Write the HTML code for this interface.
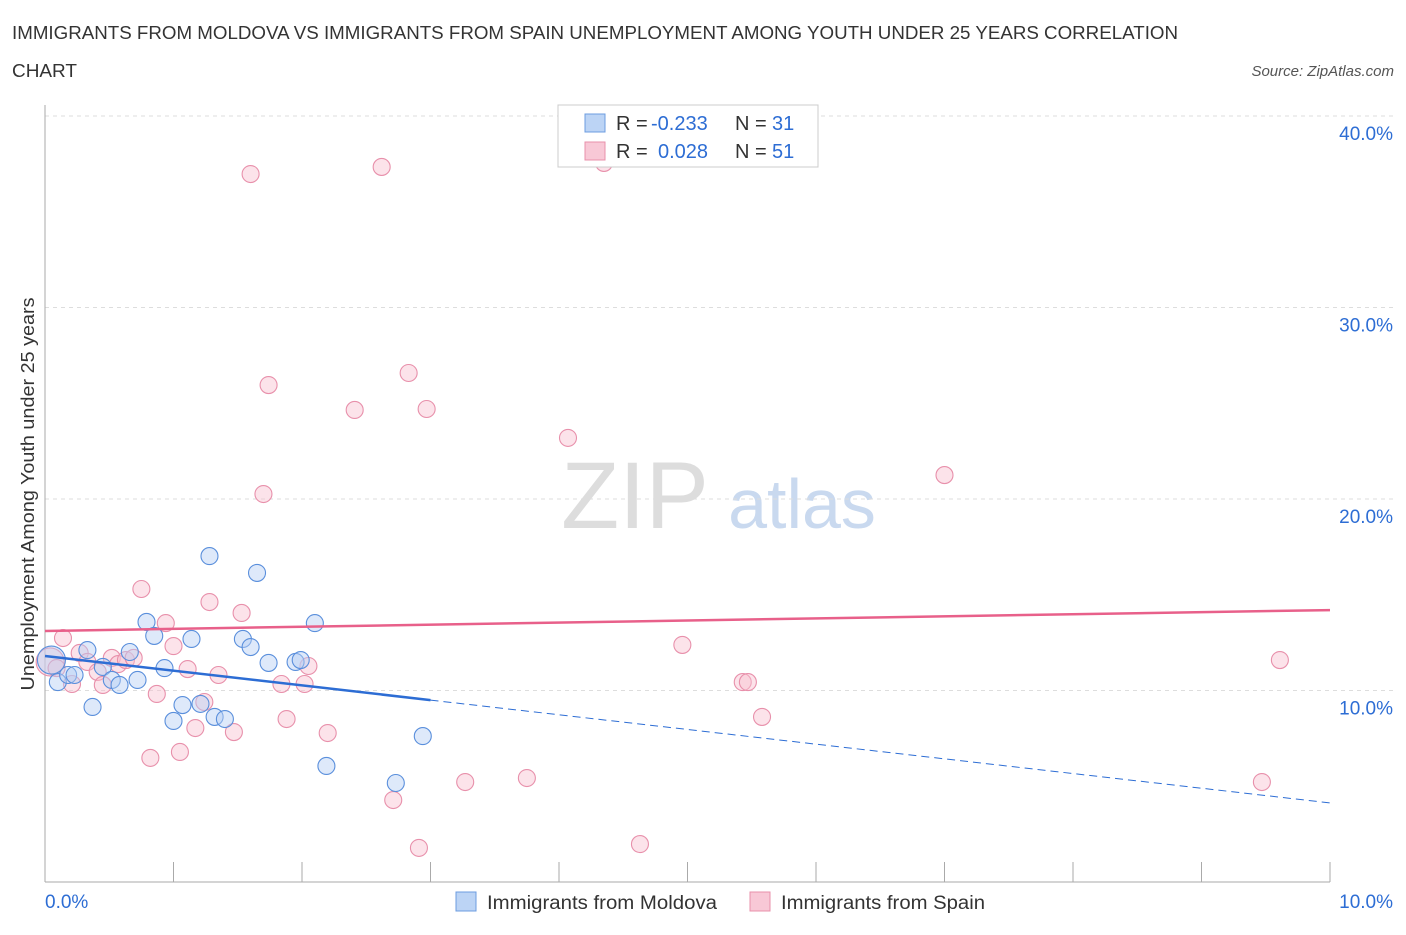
<!DOCTYPE html>
<html><head><meta charset="utf-8"><style>
body{margin:0;background:#fff;font-family:"Liberation Sans",sans-serif}
svg text{font-family:"Liberation Sans",sans-serif}
</style></head><body>
<svg id="c" width="1406" height="930" xmlns="http://www.w3.org/2000/svg">
<text x="12" y="39" font-size="18" fill="#333" textLength="1166" lengthAdjust="spacingAndGlyphs">IMMIGRANTS FROM MOLDOVA VS IMMIGRANTS FROM SPAIN UNEMPLOYMENT AMONG YOUTH UNDER 25 YEARS CORRELATION</text>
<text x="12" y="77" font-size="18" fill="#333" textLength="65" lengthAdjust="spacingAndGlyphs">CHART</text>
<text x="1394" y="76" font-size="15" fill="#555" font-style="italic" text-anchor="end">Source: ZipAtlas.com</text>
<text x="635" y="528" font-size="95" fill="#ddd" font-family="Liberation Serif" text-anchor="middle">ZIP</text>
<text x="802" y="528" font-size="70" fill="#c9d9ef" text-anchor="middle">atlas</text>
<g id="grid"></g><g id="axes"></g><g id="marks"></g>
<text transform="translate(34,494) rotate(-90)" font-size="18" fill="#333" text-anchor="middle" textLength="393" lengthAdjust="spacingAndGlyphs">Unemployment Among Youth under 25 years</text>
<g>
<rect x="558" y="105" width="260" height="62" fill="#fff" stroke="#ccc"/>
<rect x="585" y="114" width="20" height="18" fill="#bcd4f5" stroke="#6c9ce0"/>
<rect x="585" y="142" width="20" height="18" fill="#f8c8d6" stroke="#e890ab"/>
<text x="616" y="130" font-size="20" fill="#333">R = <tspan fill="#2d6dd4" x="651">-0.233</tspan><tspan x="735">N = </tspan><tspan fill="#2d6dd4" x="772">31</tspan></text>
<text x="616" y="158" font-size="20" fill="#333">R = <tspan fill="#2d6dd4" x="658">0.028</tspan><tspan x="735">N = </tspan><tspan fill="#2d6dd4" x="772">51</tspan></text>
</g>
<g>
<rect x="456" y="892" width="20" height="19" fill="#bcd4f5" stroke="#6c9ce0"/>
<text x="487" y="909" font-size="19" fill="#333" textLength="230" lengthAdjust="spacingAndGlyphs">Immigrants from Moldova</text>
<rect x="750" y="892" width="20" height="19" fill="#f8c8d6" stroke="#e890ab"/>
<text x="781" y="909" font-size="19" fill="#333" textLength="204" lengthAdjust="spacingAndGlyphs">Immigrants from Spain</text>
</g>
</svg>
<script>
const blueX=[0.05,0.10,0.18,0.23,0.33,0.37,0.45,0.52,0.58,0.66,0.72,0.79,0.85,0.93,1.00,1.07,1.14,1.21,1.28,1.32,1.40,1.54,1.60,1.65,1.74,1.95,1.99,2.10,2.19,2.73,2.94];
const blueY=[11.59,10.44,10.81,10.81,12.11,9.14,11.23,10.55,10.29,12.01,10.55,13.58,12.85,11.17,8.41,9.24,12.69,9.30,17.02,8.62,8.51,12.69,12.27,16.14,11.44,11.49,11.59,13.52,6.06,5.17,7.62];
const pinkX=[0.04,0.09,0.14,0.21,0.27,0.33,0.41,0.45,0.52,0.57,0.63,0.69,0.75,0.82,0.87,0.94,1.00,1.05,1.11,1.17,1.24,1.28,1.35,1.47,1.53,1.60,1.70,1.74,1.84,1.88,2.02,2.05,2.20,2.41,2.62,2.71,2.83,2.91,2.97,3.27,3.75,4.07,4.35,4.63,4.96,5.43,5.47,5.58,7.00,9.47,9.61];
const pinkY=[11.49,11.17,12.74,10.34,11.96,11.49,10.97,10.29,11.70,11.38,11.59,11.70,15.30,6.48,9.82,13.52,12.32,6.79,11.12,8.04,9.40,14.62,10.81,7.83,14.05,36.97,20.26,25.95,10.34,8.51,10.34,11.28,7.78,24.65,37.34,4.28,26.58,1.78,24.70,5.22,5.43,23.19,37.55,1.98,12.38,10.44,10.44,8.62,21.25,5.22,11.59];
const blueTrend=[11.80,4.13];
const pinkTrend=[13.11,14.20];
const yTicks=[10,20,30,40];
const xTickLabels=["0.0%","10.0%"];
const NS="http://www.w3.org/2000/svg";
const sx=v=>45+v*128.5, sy=v=>882-v*19.15;
function mk(p,t,a){const e=document.createElementNS(NS,t);for(const k in a)e.setAttribute(k,a[k]);p.appendChild(e);return e;}
const grid=document.getElementById('grid'),axes=document.getElementById('axes'),marks=document.getElementById('marks');
yTicks.forEach(v=>{
 const l=mk(grid,'line',{x1:45,x2:1393,y1:sy(v),y2:sy(v),stroke:'#ddd','stroke-dasharray':'4,4'});
 
 
 const t=mk(grid,'text',{x:1393,y:sy(v)+24,'font-size':19,fill:'#2d6dd4','text-anchor':'end'});t.textContent=v.toFixed(1)+'%';
 
 
});
const ax=mk(axes,'line',{x1:45,x2:45,y1:105,y2:882,stroke:'#aaa'});


const bx=mk(axes,'line',{x1:45,x2:1330,y1:882,y2:882,stroke:'#aaa'});


for(let i=0;i<=10;i++){const t=mk(axes,'line',{x1:sx(i),x2:sx(i),y1:862,y2:882,stroke:'#aaa'});
 
 }
[[0,xTickLabels[0],'start',45],[10,xTickLabels[1],'end',1393]].forEach(d=>{const t=mk(axes,'text',{x:d[3],y:908,'font-size':19,fill:'#2d6dd4','text-anchor':d[2]});t.textContent=d[1];
 
 });
function dots(X,Y,fill,stroke,name){X.forEach((x,i)=>{const c=mk(marks,'circle',{cx:sx(x),cy:sy(Y[i]),r:i==0?14:8.5,fill:fill,'fill-opacity':0.45,stroke:stroke,'stroke-width':1.1});
 
 });}
dots(pinkX,pinkY,'#f8c0d0','#e890ab','spain-point');
dots(blueX,blueY,'#b6cff3','#5a8fdc','moldova-point');
const pl=mk(marks,'line',{x1:sx(0),y1:sy(pinkTrend[0]),x2:sx(10),y2:sy(pinkTrend[1]),stroke:'#e8608a','stroke-width':2.5});


const b3=blueTrend[0]+(blueTrend[1]-blueTrend[0])*0.3;
const bl=mk(marks,'line',{x1:sx(0),y1:sy(blueTrend[0]),x2:sx(3),y2:sy(b3),stroke:'#2d6dd4','stroke-width':2.5});


const bd=mk(marks,'line',{x1:sx(3),y1:sy(b3),x2:sx(10),y2:sy(blueTrend[1]),stroke:'#2d6dd4','stroke-width':1,'stroke-dasharray':'8,5'});


</script>
</body></html>
